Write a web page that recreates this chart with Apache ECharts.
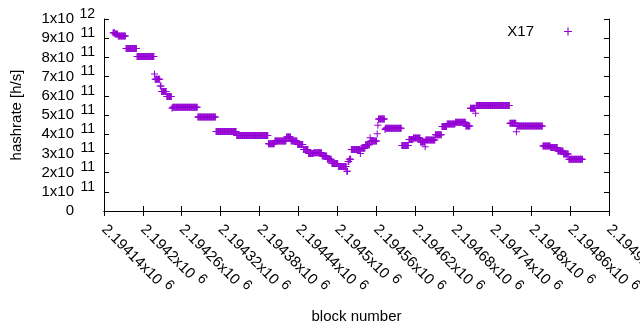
<!DOCTYPE html>
<html>
<head>
<meta charset="utf-8">
<script src="https://cdn.jsdelivr.net/npm/echarts@6/dist/echarts.min.js"></script>
<style>
  html, body { margin: 0; padding: 0; background: #fff; }
  #chart { width: 640px; height: 330px; }
</style>
</head>
<body>
<div id="chart"></div>
<script>
// runs of blocks with the same hashrate; offsets from blockBase, hashrate in 1e11 h/s
const blockBase = 2194140
const runFrom = [14, 17, 22, 34, 51, 78, 79, 87, 89, 97, 105, 106, 145, 173, 205, 254, 264, 282, 289, 299,
  308, 316, 324, 337, 345, 352, 362, 375, 377, 379, 382, 396, 397, 404, 411, 412, 422, 423, 424, 434,
  435, 460, 471, 478, 489, 496, 497, 512, 522, 530, 543, 559, 566, 574, 575, 627, 637, 638, 678, 690,
  701, 710, 718]
const runTo = [16, 21, 33, 50, 77, 78, 86, 88, 96, 104, 105, 144, 172, 204, 253, 263, 281, 288, 298, 307,
  315, 323, 336, 344, 351, 361, 374, 376, 378, 381, 395, 396, 403, 410, 411, 421, 422, 423, 433, 434,
  459, 470, 477, 488, 495, 496, 511, 521, 529, 542, 558, 565, 573, 574, 626, 636, 637, 677, 689, 700,
  709, 717, 739]
const runHash = [9.28, 9.22, 9.11, 8.47, 8.05, 7.14, 6.86, 6.51, 6.22, 5.97, 5.35, 5.40, 4.90, 4.14, 3.93, 3.50, 3.65, 3.85, 3.64, 3.47,
  3.20, 3.00, 3.04, 2.86, 2.70, 2.47, 2.32, 2.07, 2.58, 2.70, 3.20, 3.00, 3.27, 3.45, 3.82, 3.65, 4.02, 4.46, 4.79, 4.25,
  4.31, 3.41, 3.72, 3.80, 3.60, 3.35, 3.70, 3.97, 4.40, 4.53, 4.62, 4.43, 5.35, 5.09, 5.50, 4.57, 4.13, 4.43, 3.39, 3.31,
  3.12, 2.97, 2.69]

const xMin = 2194140
const xMax = 2194920
const xStep = 60
const yMax = 1e12
const yStep = 1e11

const purple = '#9400D3'
const plus = 'path://M3,0h1v7h-1zM0,3h7v1h-7z'

const points = []
runFrom.forEach((from, i) => {
  for (let b = from; b <= runTo[i]; b++) {
    points.push([blockBase + b, runHash[i] * 1e11])
  }
})

function expOf (v) {
  return Math.floor(Math.log10(v) + 1e-9)
}
function mantissa (v) {
  return parseFloat((v / Math.pow(10, expOf(v))).toFixed(5))
}
// gnuplot style "2x10^11" as rich text (x axis)
function sci (v) {
  if (v === 0) return '{m|0}'
  return '{m|' + mantissa(v) + 'x10}{s|' + expOf(v) + '}'
}

const txt = '#000'
const font = 'Liberation Sans'
const rich = {
  m: { fontSize: 15, lineHeight: 14, color: txt, fontFamily: font },
  s: { fontSize: 14, lineHeight: 14, color: txt, fontFamily: font, padding: [0, 0, 10, 5] }
}

const axisLine = { show: true, lineStyle: { color: '#000', width: 1 } }
const tick = { show: true, inside: true, length: 5, lineStyle: { color: '#000' } }

const chart = echarts.init(document.getElementById('chart'), null, { renderer: 'canvas' })
chart.setOption({
  animation: false,
  textStyle: { fontFamily: font },
  grid: { left: 104, right: 31, top: 19, bottom: 119, containLabel: false, outerBoundsMode: 'none' },
  legend: {
    data: [{ name: 'X17', icon: plus }],
    align: 'right',
    right: 68,
    top: 24,
    padding: 0,
    itemWidth: 58,
    itemHeight: 8,
    textStyle: { fontSize: 15, color: txt }
  },
  xAxis: [{
    type: 'value',
    min: xMin,
    max: xMax,
    interval: xStep,
    name: 'block number',
    nameLocation: 'middle',
    nameGap: 98,
    nameTextStyle: { fontSize: 15, color: txt },
    axisLine: axisLine,
    axisTick: tick,
    splitLine: { show: false },
    axisLabel: {
      rotate: -45,
      margin: 16,
      showMinLabel: true,
      showMaxLabel: true,
      formatter: v => sci(v),
      rich: rich
    }
  }, {
    type: 'value',
    position: 'top',
    min: xMin,
    max: xMax,
    interval: xStep,
    axisLine: axisLine,
    axisTick: tick,
    axisLabel: { show: false },
    splitLine: { show: false }
  }],
  yAxis: [{
    // mantissa part "Nx10"
    type: 'value',
    position: 'left',
    min: 0,
    max: yMax,
    interval: yStep,
    name: 'hashrate [h/s]',
    nameLocation: 'middle',
    nameGap: 80,
    nameTextStyle: { fontSize: 15, color: txt },
    axisLine: axisLine,
    axisTick: tick,
    splitLine: { show: false },
    axisLabel: {
      margin: 30,
      showMinLabel: true,
      showMaxLabel: true,
      fontSize: 15,
      color: txt,
      formatter: v => v === 0 ? '0' : mantissa(v) + 'x10'
    }
  }, {
    // exponent part, raised
    type: 'value',
    position: 'left',
    min: 0,
    max: yMax,
    interval: yStep,
    axisLine: { show: false },
    axisTick: { show: false },
    splitLine: { show: false },
    axisLabel: {
      margin: 9,
      showMinLabel: true,
      showMaxLabel: true,
      fontSize: 14,
      lineHeight: 10,
      verticalAlign: 'bottom',
      color: txt,
      formatter: v => v === 0 ? '' : String(expOf(v))
    }
  }, {
    type: 'value',
    position: 'right',
    min: 0,
    max: yMax,
    interval: yStep,
    axisLine: axisLine,
    axisTick: tick,
    axisLabel: { show: false },
    splitLine: { show: false }
  }],
  series: [{
    name: 'X17',
    type: 'scatter',
    yAxisIndex: 0,
    symbol: plus,
    symbolSize: 7,
    itemStyle: { color: purple, opacity: 1 },
    data: points
  }]
})
</script>
</body>
</html>
